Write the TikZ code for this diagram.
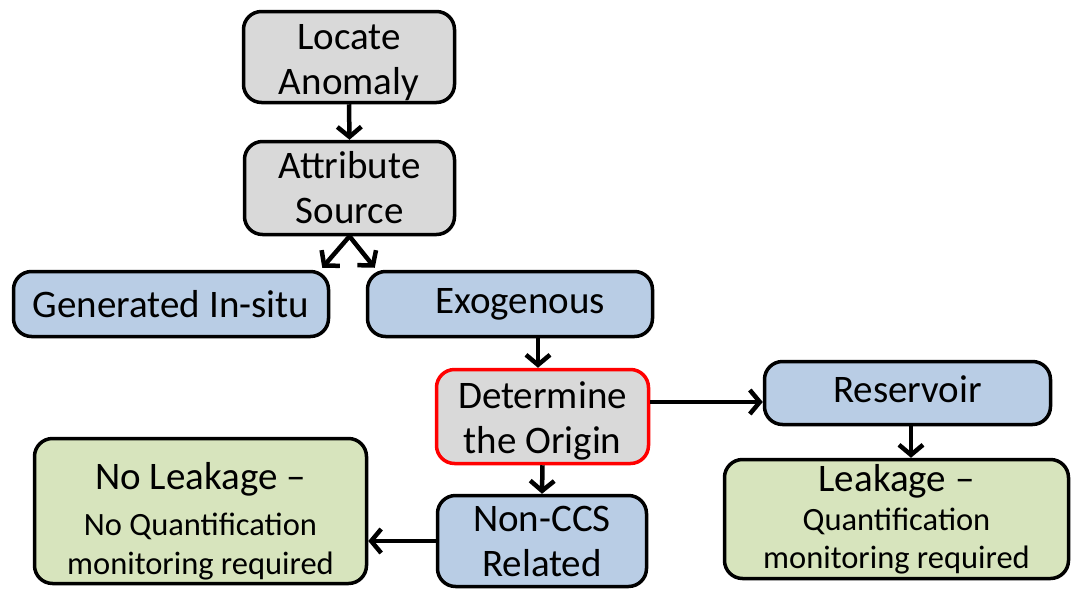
\documentclass[tikz,border=0pt]{standalone}
\usepackage{fontspec}
\setmainfont{Carlito}
\usetikzlibrary{arrows.meta,calc}
\definecolor{boxgray}{HTML}{D9D9D9}
\definecolor{boxblue}{HTML}{B9CDE5}
\definecolor{boxgreen}{HTML}{D7E4BD}
\definecolor{boxred}{HTML}{FF0000}
\newcommand{\bigf}{\fontsize{39}{45}\selectfont}
\newcommand{\smallf}{\fontsize{32.5}{40}\selectfont}
\newcommand{\topstrut}[1]{\rule{0pt}{#1}}
\newcommand{\botstrut}[1]{\rule[-#1]{0pt}{#1}}
\tikzset{
  flowbox/.style={draw=black, line width=3.5pt, rounded corners=18pt, align=center, inner sep=0pt, font=\bigf},
  graybox/.style={flowbox, fill=boxgray},
  bluebox/.style={flowbox, fill=boxblue},
  greenbox/.style={flowbox, fill=boxgreen},
  arr/.style={line width=4.5pt, -{Straight Barb[length=10pt,width=24pt]}}
}
\begin{document}
\begin{tikzpicture}[x=1pt,y=-1pt]
\useasboundingbox (0,0) rectangle (1072,590);
\fill[white] (0,0) rectangle (1072,590);
\node[graybox, minimum width=211pt, minimum height=91pt] (loc) at (349,57) {\topstrut{36pt}Locate\\Anomaly};
\node[graybox, minimum width=210pt, minimum height=93pt] (attr) at (349.5,188) {Attribute\\Source};
\node[bluebox, minimum width=315pt, minimum height=65pt] (gen) at (171,304) {Generated In-situ};
\node[bluebox, minimum width=285pt, minimum height=65pt] (exo) at (510,304) {\hspace*{20pt}Exogenous};
\node[graybox, draw=boxred, minimum width=212pt, minimum height=94pt] (det) at (542.5,416.5) {\topstrut{35pt}Determine\\the Origin};
\node[bluebox, minimum width=286pt, minimum height=63pt] (res) at (907.5,393) {Reservoir\botstrut{8pt}};
\node[greenbox, minimum width=344pt, minimum height=119pt] (leak) at (896.5,519) {Leakage --\\[-6pt]\smallf Quantification\\[-7pt]\smallf monitoring required};
\node[greenbox, minimum width=332pt, minimum height=145pt] (nol) at (200.5,511) {\topstrut{47pt}No Leakage --\\[1pt]\smallf No Quantification\\[-6pt]\smallf monitoring required};
\node[bluebox, minimum width=209pt, minimum height=91pt] (non) at (542,541) {Non-CCS\\Related};
\draw[arr] (loc.south) -- (attr.north);
\draw[arr] (attr.south) -- ($(gen.north east)+(-8,-2)$);
\draw[arr] (attr.south) -- ($(exo.north west)+(9,-2)$);
\coordinate (ex) at ($(exo.south)+(28,0)$);
\draw[arr] (ex) -- (ex |- det.north);
\coordinate (dr) at ([yshift=14.5pt]det.east);
\draw[arr] (dr) -- (dr -| res.west);
\coordinate (rs) at ($(res.south)+(3.5,0)$);
\draw[arr] (rs) -- (rs |- leak.north);
\draw[arr] (det.south) -- (non.north);
\draw[arr] (non.west) -- (non.west -| nol.east);
\end{tikzpicture}
\end{document}
